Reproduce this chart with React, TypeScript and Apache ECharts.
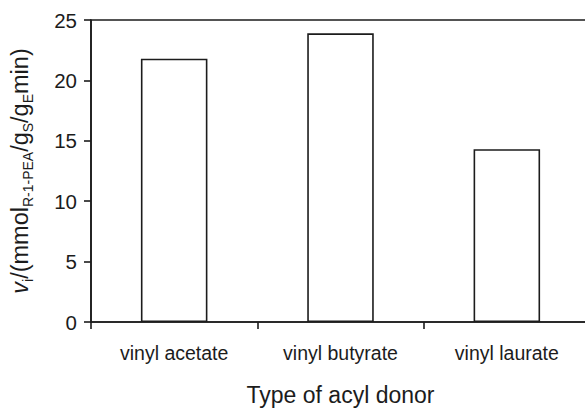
import React, { useEffect, useRef } from "react";
import * as echarts from "echarts";

const categories = ["vinyl acetate", "vinyl butyrate", "vinyl laurate"];
const rates = [21.8, 23.9, 14.3];
const yMin = 0;
const yMax = 25;
const yInterval = 5;

export default function App() {
  const ref = useRef<HTMLDivElement>(null);
  useEffect(() => {
    document.body.style.overflow = "hidden";
    const chart = echarts.init(ref.current!, null, { renderer: "svg" });
    const font = "Liberation Sans, Arial, sans-serif";
    const ink = "#1c1c1c";
    chart.setOption({
      animation: false,
      backgroundColor: "#fff",
      textStyle: { fontFamily: font, color: ink },
      grid: {
        left: 90,
        top: 20,
        width: 500,
        height: 309,
        show: true,
        borderColor: ink,
        borderWidth: 1.6,
        backgroundColor: "transparent",
      },
      xAxis: {
        type: "category",
        data: categories,
        boundaryGap: true,
        axisLine: { lineStyle: { color: ink, width: 1.6 } },
        axisTick: { show: true, length: 7, lineStyle: { color: ink, width: 1.6 } },
        axisLabel: { fontSize: 19.5, color: ink, margin: 21, fontFamily: font },
        name: "Type of acyl donor",
        nameLocation: "middle",
        nameGap: 61,
        nameTextStyle: { fontSize: 23, color: ink, fontFamily: font },
      },
      yAxis: {
        type: "value",
        min: yMin,
        max: yMax,
        interval: yInterval,
        splitLine: { show: false },
        axisLine: { show: true, lineStyle: { color: ink, width: 1.6 } },
        axisTick: { show: true, length: 7, lineStyle: { color: ink, width: 1.6 } },
        axisLabel: { fontSize: 20.5, color: ink, margin: 14, fontFamily: font },
        name: "{it|v}{sub|i}{m|/(mmol}{sub|R-1-PEA}{m|/g}{sub|S}{m|/g}{sub|E}{m|min)}",
        nameLocation: "middle",
        nameRotate: 90,
        nameGap: 56,
        nameTextStyle: {
          fontFamily: font,
          color: ink,
          rich: {
            it: { fontSize: 23.5, fontStyle: "italic", fontFamily: font, color: ink, lineHeight: 30, verticalAlign: "middle" },
            m: { fontSize: 23.5, fontFamily: font, color: ink, lineHeight: 30, verticalAlign: "middle" },
            sub: { fontSize: 14, fontFamily: font, color: ink, lineHeight: 14, verticalAlign: "bottom" },
          },
        },
      },
      series: [
        {
          type: "bar",
          data: rates,
          barWidth: "40%",
          itemStyle: { color: "#fff", borderColor: ink, borderWidth: 1.6 },
        },
      ],
    });
    return () => chart.dispose();
  }, []);
  return (
    <div
      ref={ref}
      style={{ position: "fixed", left: 0, top: 0, width: 600, height: 411 }}
    />
  );
}
